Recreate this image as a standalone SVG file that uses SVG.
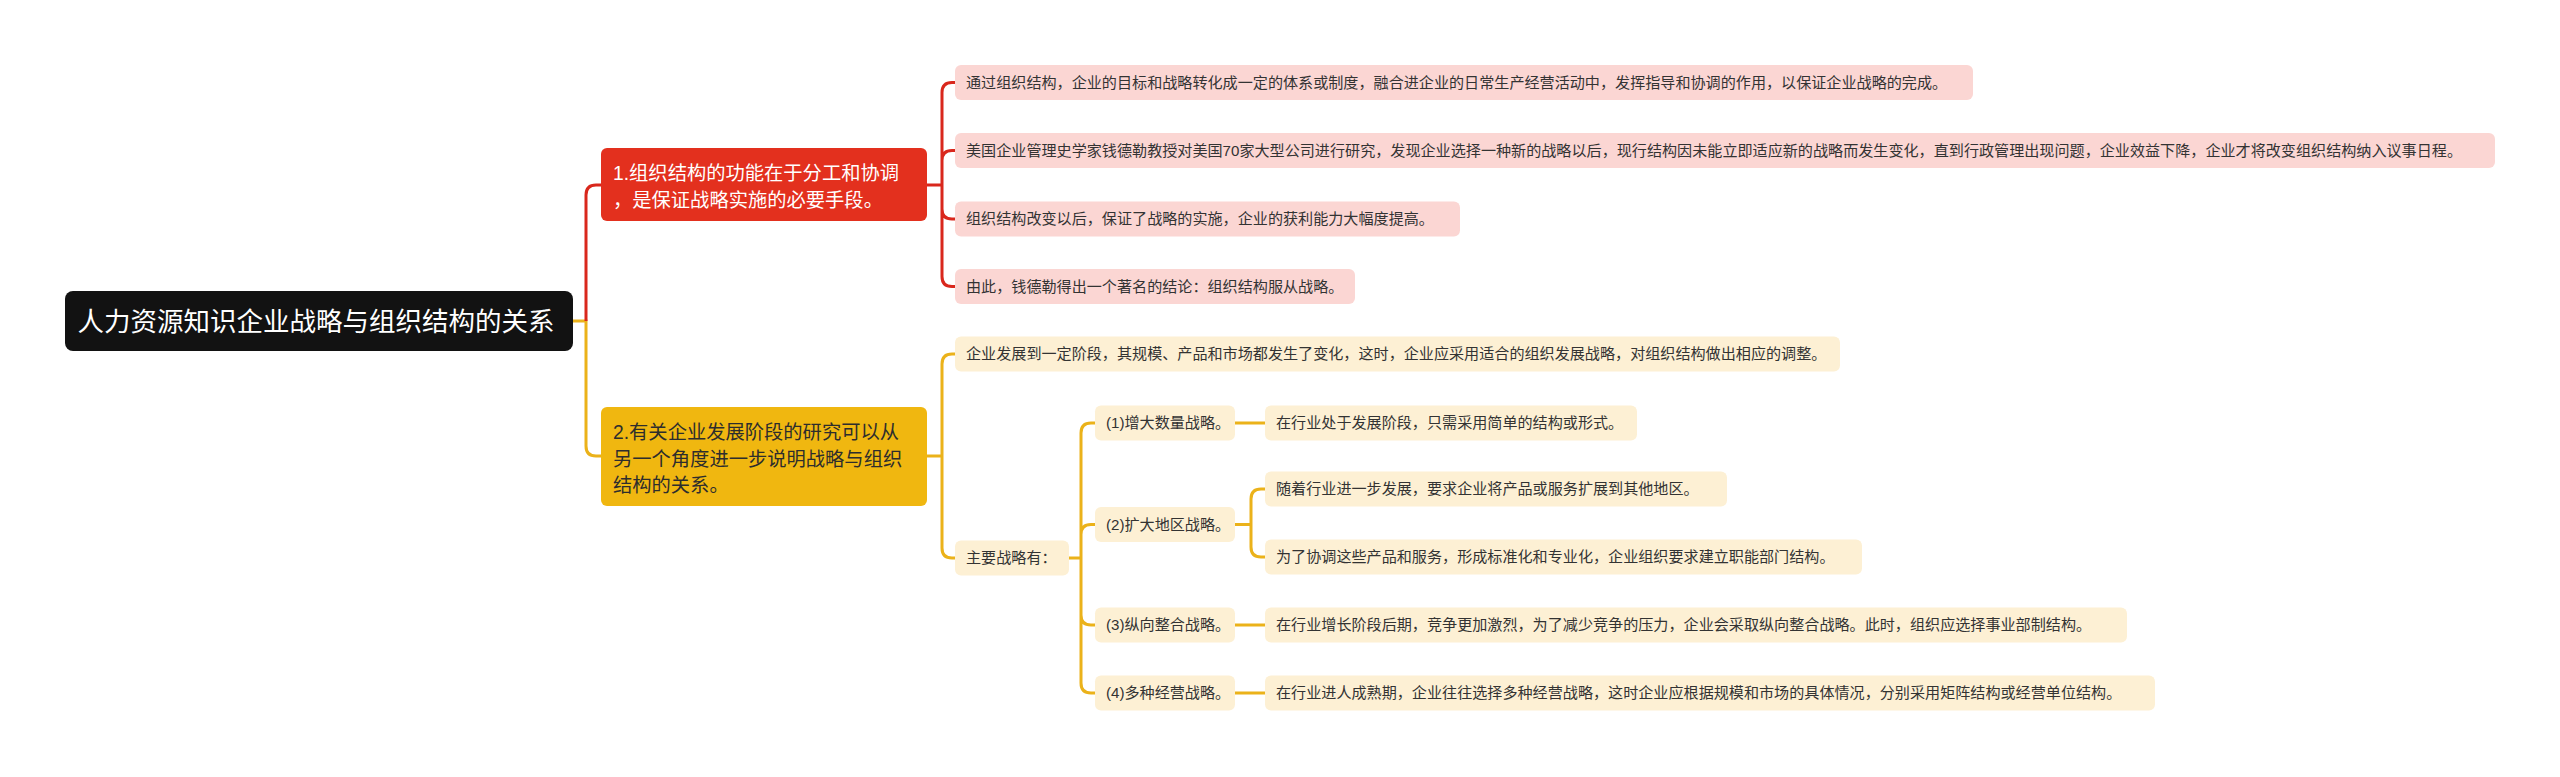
<svg xmlns="http://www.w3.org/2000/svg" width="2560" height="777" viewBox="0 0 2560 777">
<style>
text{font-family:"Liberation Sans","Noto Sans CJK SC",sans-serif}
.root{fill:#121212}
.rt{fill:#ffffff;font-size:26.5px}
.b1{fill:#E3301E}
.b1t{fill:#ffffff;font-size:19.3px}
.b2{fill:#F0B710}
.b2t{fill:#2d2d2d;font-size:19.3px}
.pk{fill:#FBD6D3}
.cr{fill:#FDF0D4}
.lt{fill:#333333;font-size:15.1px}
.red{fill:none;stroke:#D9271C;stroke-width:3}
.yel{fill:none;stroke:#EBB21A;stroke-width:3}
</style>
<rect width="2560" height="777" fill="#ffffff"/>
<g id="connectors">
<path class="yel" d="M573,321 H586 V446 Q586,456 596,456 H601"/>
<path class="red" d="M586,321 V195 Q586,185 596,185 H601"/>
<path class="red" d="M927,185 H942 M942,185 V92.5 Q942,82.5 952,82.5 H955 M942,185 V160.5 Q942,150.5 952,150.5 H955 M942,185 V209 Q942,219 952,219 H955 M942,185 V276.5 Q942,286.5 952,286.5 H955"/>
<path class="yel" d="M927,456 H942 M942,456 V364 Q942,354 952,354 H955 M942,456 V548 Q942,558 952,558 H955"/>
<path class="yel" d="M1069,558 H1081 M1081,558 V433 Q1081,423 1091,423 H1095 M1081,558 V534.5 Q1081,524.5 1091,524.5 H1095 M1081,558 V615 Q1081,625 1091,625 H1095 M1081,558 V683 Q1081,693 1091,693 H1095"/>
<path class="yel" d="M1235,423 H1265 M1235,625 H1265 M1235,693 H1265"/>
<path class="yel" d="M1235,524.5 H1251 M1251,524.5 V499 Q1251,489 1261,489 H1265 M1251,524.5 V547 Q1251,557 1261,557 H1265"/>
</g>
<g id="root">
<rect class="root" x="65" y="291" width="508" height="60" rx="8"/>
<text class="rt" x="316" y="330.5" text-anchor="middle">人力资源知识企业战略与组织结构的关系</text>
</g>
<g id="branch1">
<rect class="b1" x="601" y="148" width="326" height="73" rx="6"/>
<text class="b1t" x="613" y="180">1.组织结构的功能在于分工和协调</text>
<text class="b1t" x="613" y="207">，是保证战略实施的必要手段。</text>
</g>
<g id="b1c1">
<rect class="pk" x="955" y="65" width="1018" height="35" rx="6"/>
<text class="lt" x="966" y="87.5">通过组织结构，企业的目标和战略转化成一定的体系或制度，融合进企业的日常生产经营活动中，发挥指导和协调的作用，以保证企业战略的完成。</text>
</g>
<g id="b1c2">
<rect class="pk" x="955" y="133" width="1540" height="35" rx="6"/>
<text class="lt" x="966" y="155.5">美国企业管理史学家钱德勒教授对美国70家大型公司进行研究，发现企业选择一种新的战略以后，现行结构因未能立即适应新的战略而发生变化，直到行政管理出现问题，企业效益下降，企业才将改变组织结构纳入议事日程。</text>
</g>
<g id="b1c3">
<rect class="pk" x="955" y="201.5" width="505" height="35" rx="6"/>
<text class="lt" x="966" y="224">组织结构改变以后，保证了战略的实施，企业的获利能力大幅度提高。</text>
</g>
<g id="b1c4">
<rect class="pk" x="955" y="269" width="400" height="35" rx="6"/>
<text class="lt" x="966" y="291.5">由此，钱德勒得出一个著名的结论：组织结构服从战略。</text>
</g>
<g id="branch2">
<rect class="b2" x="601" y="407" width="326" height="99" rx="6"/>
<text class="b2t" x="613" y="439">2.有关企业发展阶段的研究可以从</text>
<text class="b2t" x="613" y="465.5">另一个角度进一步说明战略与组织</text>
<text class="b2t" x="613" y="492">结构的关系。</text>
</g>
<g id="b2c1">
<rect class="cr" x="955" y="336.5" width="885" height="35" rx="6"/>
<text class="lt" x="966" y="359">企业发展到一定阶段，其规模、产品和市场都发生了变化，这时，企业应采用适合的组织发展战略，对组织结构做出相应的调整。</text>
</g>
<g id="b2c2">
<rect class="cr" x="955" y="540.5" width="114" height="35" rx="6"/>
<text class="lt" x="966" y="563">主要战略有：</text>
</g>
<g id="s1">
<rect class="cr" x="1095" y="405.5" width="140" height="35" rx="6"/>
<text class="lt" x="1106" y="428">(1)增大数量战略。</text>
</g>
<g id="s2">
<rect class="cr" x="1095" y="507" width="140" height="35" rx="6"/>
<text class="lt" x="1106" y="529.5">(2)扩大地区战略。</text>
</g>
<g id="s3">
<rect class="cr" x="1095" y="607.5" width="140" height="35" rx="6"/>
<text class="lt" x="1106" y="630">(3)纵向整合战略。</text>
</g>
<g id="s4">
<rect class="cr" x="1095" y="675.5" width="140" height="35" rx="6"/>
<text class="lt" x="1106" y="698">(4)多种经营战略。</text>
</g>
<g id="d1">
<rect class="cr" x="1265" y="405.5" width="372" height="35" rx="6"/>
<text class="lt" x="1276" y="428">在行业处于发展阶段，只需采用简单的结构或形式。</text>
</g>
<g id="d2a">
<rect class="cr" x="1265" y="471.5" width="462" height="35" rx="6"/>
<text class="lt" x="1276" y="494">随着行业进一步发展，要求企业将产品或服务扩展到其他地区。</text>
</g>
<g id="d2b">
<rect class="cr" x="1265" y="539.5" width="597" height="35" rx="6"/>
<text class="lt" x="1276" y="562">为了协调这些产品和服务，形成标准化和专业化，企业组织要求建立职能部门结构。</text>
</g>
<g id="d3">
<rect class="cr" x="1265" y="607.5" width="862" height="35" rx="6"/>
<text class="lt" x="1276" y="630">在行业增长阶段后期，竞争更加激烈，为了减少竞争的压力，企业会采取纵向整合战略。此时，组织应选择事业部制结构。</text>
</g>
<g id="d4">
<rect class="cr" x="1265" y="675.5" width="890" height="35" rx="6"/>
<text class="lt" x="1276" y="698">在行业进人成熟期，企业往往选择多种经营战略，这时企业应根据规模和市场的具体情况，分别采用矩阵结构或经营单位结构。</text>
</g>
</svg>
